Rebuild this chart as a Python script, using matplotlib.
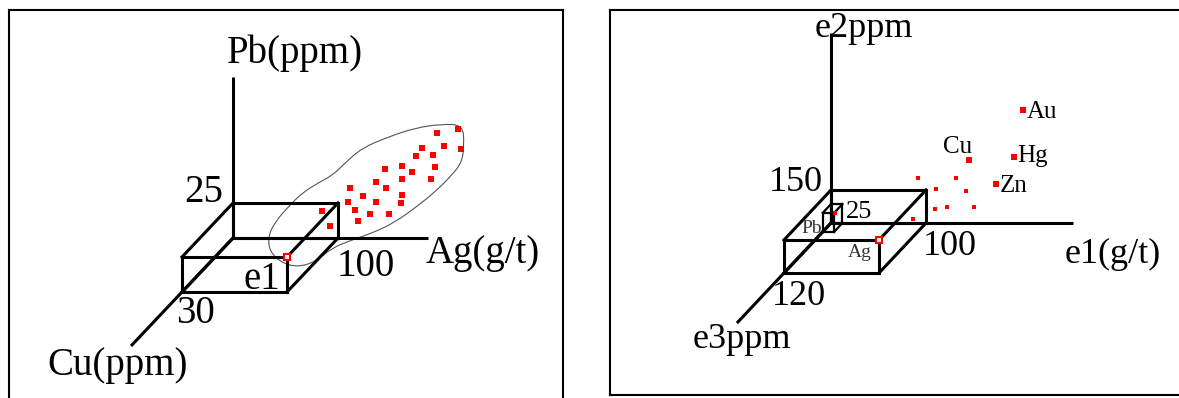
import numpy as np
import matplotlib.pyplot as plt
from matplotlib.path import Path
from matplotlib.patches import PathPatch

W, H = 1179, 398
plt.rcParams['font.family'] = ['Liberation Serif', 'DejaVu Serif']

# Left diagram: Ag (g/t) across, Pb (ppm) up, Cu (ppm) in depth
ag_cut, pb_cut, cu_cut = 100, 25, 30
ag_end, pb_end, cu_end = 186, 115, 60

# anomalous samples (Ag, Pb) seen on the projection plane
sample_ag = [194.0, 214.6, 201.0, 179.7, 216.9, 174.3, 190.8, 160.7, 145.0, 170.8,
             192.4, 161.0, 188.6, 135.9, 145.4, 111.4, 123.8, 160.7, 109.2, 136.2,
             159.7, 115.9, 130.5, 148.9, 119.0, 84.5, 92.4]
sample_pb = [74.8, 77.6, 65.5, 64.1, 63.6, 58.8, 59.5, 51.6, 49.3, 47.1,
             50.9, 42.4, 41.9, 39.8, 35.9, 35.5, 30.2, 30.9, 25.9, 25.9,
             25.2, 19.8, 16.9, 17.4, 12.4, 19.3, 8.8]

# hand-drawn envelope round the anomaly
halo_ag = [219.0, 199.0, 173.3, 147.6, 122.9, 106.7, 95.2, 81.0, 65.7, 52.4,
           40.0, 33.3, 35.2, 46.7, 61.9, 78.1, 94.3, 113.3, 135.2, 154.3,
           173.3, 192.4, 208.6, 218.1, 220.0]
halo_pb = [80.7, 81.4, 78.6, 72.1, 64.3, 53.6, 45.0, 39.3, 32.1, 22.1,
           11.4, 0.7, -10.0, -17.9, -20.7, -17.1, -7.1, -1.4, 4.3, 11.4,
           21.4, 32.9, 45.0, 54.3, 66.4]

# Right diagram: generic e1 (g/t), e2 (ppm), e3 (ppm)
e1_cut, e2_cut, e3_cut = 100, 150, 120
e1_end, e2_end, e3_end = 255, 864, 240
pb_box = (12, 86, 21)

elements = ['Au', 'Hg', 'Zn', 'Cu']
element_e1 = [202.1, 192.6, 173.7, 145.3]
element_e2 = [513.6, 300.0, 177.3, 286.4]

point_e1 = [91.6, 110.5, 131.6, 142.1, 109.5, 122.1, 150.5, 86.3]
point_e2 = [204.5, 154.5, 204.5, 145.5, 63.6, 72.7, 72.7, 18.2]

fig = plt.figure(figsize=(W / 100, H / 100), dpi=100)


def make_panel(frame, origin, scale, depth, hide):
    l, t, r, b = frame
    sx, sy = scale
    ax = fig.add_axes([l / W, 1 - b / H, (r - l) / W, (b - t) / H])
    ax.set_xlim((l - origin[0]) / sx, (r - origin[0]) / sx)
    ax.set_ylim((origin[1] - b) / sy, (origin[1] - t) / sy)
    ax.set_xticks([])
    ax.set_yticks([])
    for name, sp in ax.spines.items():
        sp.set_linewidth(1.5)
        sp.set_visible(name != hide)
    kx, ky = depth[0] / sx, -depth[1] / sy

    def proj(e1, e2, e3=0):
        return e1 + kx * e3, e2 + ky * e3
    return ax, proj


def draw_axes(ax, proj, ends):
    for i in range(3):
        tip = [0, 0, 0]
        tip[i] = ends[i]
        x0, y0 = proj(0, 0, 0)
        x1, y1 = proj(*tip)
        ax.plot([x0, x1], [y0, y1], color='black', lw=2.2, solid_capstyle='butt')


def draw_box(ax, proj, a, b, c, lw):
    corners = [(i, j, k) for i in (0, 1) for j in (0, 1) for k in (0, 1)]
    for p in corners:
        for q in corners:
            if p < q and sum(u != v for u, v in zip(p, q)) == 1:
                x0, y0 = proj(p[0] * a, p[1] * b, p[2] * c)
                x1, y1 = proj(q[0] * a, q[1] * b, q[2] * c)
                ax.plot([x0, x1], [y0, y1], color='black', lw=lw, solid_capstyle='projecting')


def label(ax, text, xy, offset, size, ha='left', color='black'):
    ax.annotate(text, xy=xy, xytext=offset, textcoords='offset pixels',
                ha=ha, va='baseline', fontsize=size, color=color)


def open_marker(ax, xy):
    ax.plot(*xy, marker='s', ms=5, mfc='white', mec='red', mew=1.5, zorder=4)


# ---- left panel ----
ax, proj = make_panel((9, 10, 563, 402), (233, 238), (1.05, 1.4), (-1.7, 1.8), 'bottom')

pts = np.column_stack([halo_ag, halo_pb])
mids = (pts + np.roll(pts, -1, axis=0)) / 2
verts = [mids[-1]]
codes = [Path.MOVETO]
for p, m in zip(pts, mids):
    verts += [p, m]
    codes += [Path.CURVE3, Path.CURVE3]
ax.add_patch(PathPatch(Path(verts, codes), fill=False, ec='#555555', lw=0.8, zorder=1))

draw_axes(ax, proj, (ag_end, pb_end, cu_end))
draw_box(ax, proj, ag_cut, pb_cut, cu_cut, 2.2)
ax.plot(sample_ag, sample_pb, 's', color='red', ms=3.8, mew=0, zorder=3)
open_marker(ax, proj(ag_cut, pb_cut, cu_cut))

label(ax, 'Pb(ppm)', proj(0, pb_end), (-6, 14), 28)
label(ax, 'Ag(g/t)', proj(ag_end, 0), (-3, -25), 28)
label(ax, 'Cu(ppm)', proj(0, 0, cu_end), (-84, -29), 28)
label(ax, '25', proj(0, pb_cut), (-10, 1), 28, ha='right')
label(ax, '100', proj(ag_cut, 0), (-1, -38), 28)
label(ax, '30', proj(0, 0, cu_cut), (-6, -31), 28)
label(ax, 'e1', proj(ag_cut, pb_cut, cu_cut), (-7, -32), 28, ha='right')

# ---- right panel ----
ax, proj = make_panel((610, 10, 1179, 395), (831, 223), (0.95, 0.22), (-0.392, 0.417), 'right')

draw_axes(ax, proj, (e1_end, e2_end, e3_end))
draw_box(ax, proj, e1_cut, e2_cut, e3_cut, 2.2)
draw_box(ax, proj, *pb_box, 1.6)
ax.plot(*proj(4, 46), 's', color='red', ms=2.4, mew=0, zorder=3)
ax.plot(point_e1, point_e2, 's', color='red', ms=3.2, mew=0, zorder=3)
ax.plot(element_e1, element_e2, 's', color='red', ms=4.6, mew=0, zorder=3)
open_marker(ax, proj(e1_cut, e2_cut, e3_cut))

element_offsets = {'Au': (4, -8), 'Hg': (3, -5), 'Zn': (4, -8), 'Cu': (3, 7)}
for name, x, y in zip(elements, element_e1, element_e2):
    label(ax, name, (x, y), element_offsets[name], 18, ha='right' if name == 'Cu' else 'left')

label(ax, 'e2ppm', proj(0, e2_end), (-16, -4), 26)
label(ax, 'e1(g/t)', proj(e1_end, 0), (-9, -40), 26)
label(ax, 'e3ppm', proj(0, 0, e3_end), (-44, -25), 26)
label(ax, '150', proj(0, e2_cut), (-8, -1), 26, ha='right')
label(ax, '100', proj(e1_cut, 0), (-3, -32), 26)
label(ax, '120', proj(0, 0, e3_cut), (-12, -32), 26)
label(ax, '25', proj(pb_box[0], pb_box[1]), (3, -14), 19)
label(ax, 'Pb', proj(0, 0, pb_box[2]), (-1, -1), 14, ha='right', color='#333333')
label(ax, 'Ag', proj(e1_cut, e2_cut, e3_cut), (-7, -17), 14, ha='right', color='#333333')

fig.savefig('out.png', dpi=100)
